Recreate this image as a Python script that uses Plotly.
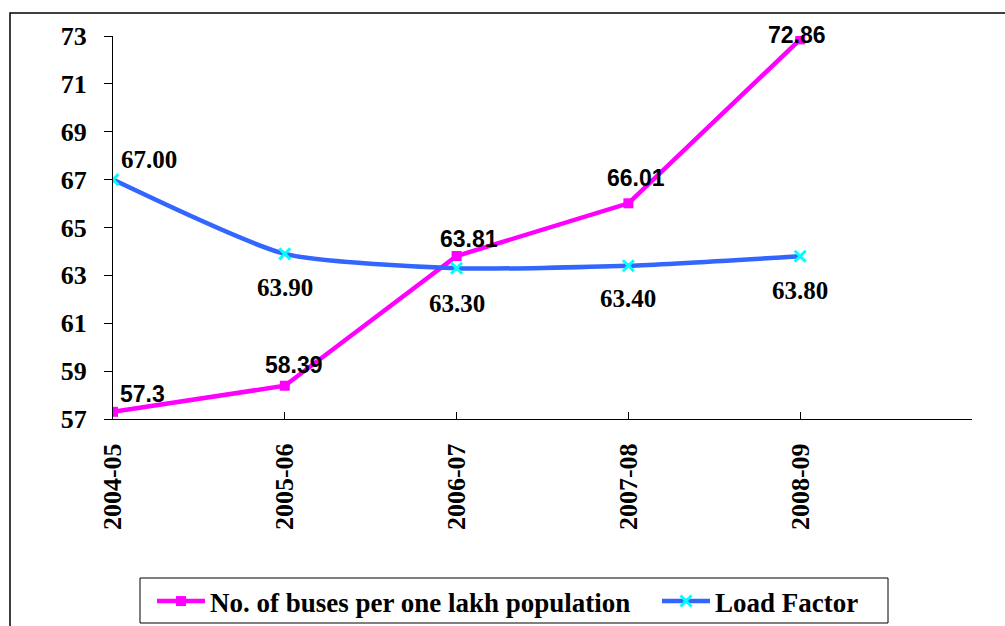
import plotly.graph_objects as go

categories = ["2004-05", "2005-06", "2006-07", "2007-08", "2008-09"]
buses_per_lakh = [57.3, 58.39, 63.81, 66.01, 72.86]
buses_labels = ["57.3", "58.39", "63.81", "66.01", "72.86"]
load_factor = [67.00, 63.90, 63.30, 63.40, 63.80]
load_labels = ["67.00", "63.90", "63.30", "63.40", "63.80"]
y_ticks = [57, 59, 61, 63, 65, 67, 69, 71, 73]

xpos = list(range(len(categories)))

# label offsets in pixels (dx right, dy down)
bus_off = [(29, -18), (9, -21), (12, -17), (8, -25), (-3, -4)]
load_off = [(36, -20), (0, 34), (0, 35), (0, 33), (0, 34)]

SERIF = "Times New Roman"
SANS = "Arial"

fig = go.Figure()
fig.add_trace(go.Scatter(
    x=xpos, y=buses_per_lakh, mode="lines+markers",
    name="No. of buses per one lakh population",
    line=dict(color="#FF00FF", width=4.5),
    marker=dict(symbol="square", size=10, color="#FF00FF"),
    legend="legend",
))
fig.add_trace(go.Scatter(
    x=xpos, y=load_factor, mode="lines+markers",
    name="Load Factor",
    line=dict(color="#3366FF", width=4.5, shape="spline", smoothing=0.6),
    marker=dict(symbol="x-thin", size=11, color="#00FFFF",
                line=dict(color="#00FFFF", width=3)),
    legend="legend2",
))

annotations = []
for i, (v, t) in enumerate(zip(buses_per_lakh, buses_labels)):
    dx, dy = bus_off[i]
    annotations.append(dict(x=i, y=v, xref="x", yref="y", text="<b>%s</b>" % t,
                            showarrow=False, xshift=dx, yshift=-dy,
                            font=dict(family=SANS, size=23, color="black")))
for i, (v, t) in enumerate(zip(load_factor, load_labels)):
    dx, dy = load_off[i]
    annotations.append(dict(x=i, y=v, xref="x", yref="y", text="<b>%s</b>" % t,
                            showarrow=False, xshift=dx, yshift=-dy,
                            font=dict(family=SERIF, size=25, color="black")))

PW, PH, PL, PB = 859, 383, 113, 419


def px_x(p):
    return (p - PL) / PW


def px_y(p):
    return (PB - p) / PH


legend_common = dict(orientation="h", xref="container", yref="container",
                     xanchor="left", y=1 - 577 / 626, yanchor="top",
                     borderwidth=0, bgcolor="rgba(0,0,0,0)",
                     font=dict(family=SERIF, size=27, color="black", weight="bold"),
                     itemwidth=48, tracegroupgap=0)

fig.update_layout(
    width=1005, height=626,
    margin=dict(l=113, r=33, t=36, b=207),
    paper_bgcolor="white", plot_bgcolor="white",
    showlegend=True,
    legend=dict(x=152 / 1005, **legend_common),
    legend2=dict(x=657 / 1005, **legend_common),
    annotations=annotations,
    shapes=[
        dict(type="rect", xref="paper", yref="paper",
             x0=px_x(10), x1=px_x(1010), y0=px_y(640), y1=px_y(13),
             line=dict(color="black", width=1.5), fillcolor="rgba(0,0,0,0)",
             layer="below"),
        dict(type="rect", xref="paper", yref="paper",
             x0=px_x(140), x1=px_x(888), y0=px_y(623), y1=px_y(578),
             line=dict(color="black", width=1), fillcolor="white",
             layer="below"),
    ],
)

fig.update_xaxes(
    range=[0, len(categories)],
    tickmode="array", tickvals=list(range(len(categories) + 1)),
    ticktext=[f"<b>{c}</b>" for c in categories] + [""],
    tickangle=-90, ticks="inside", ticklen=7, tickcolor="black",
    showline=True, linecolor="black", linewidth=1, showgrid=False, zeroline=False,
    tickfont=dict(family=SERIF, size=26, color="black"),
    ticklabelstandoff=13, automargin=False,
)
fig.update_yaxes(
    range=[57, 73], tickmode="array", tickvals=y_ticks,
    ticktext=[f"<b>{v}</b>" for v in y_ticks],
    ticks="outside", ticklen=8, tickcolor="black",
    showline=True, linecolor="black", linewidth=1, showgrid=False, zeroline=False,
    tickfont=dict(family=SERIF, size=26, color="black"),
    ticklabelstandoff=12, automargin=False,
)

fig.write_html("out.html", config={"displayModeBar": False},
               post_script="document.body.style.margin='0';")
